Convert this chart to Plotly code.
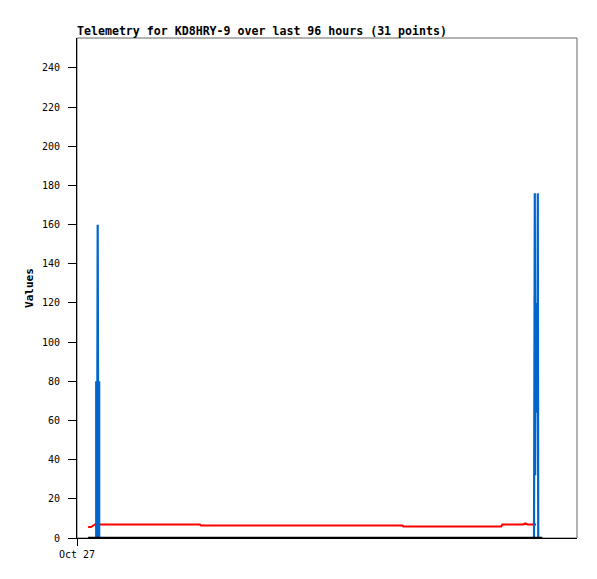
import pandas as pd
import plotly.graph_objects as go

# time axis: Oct 27 00:00 .. Oct 28 00:00
x_start = pd.Timestamp("2023-10-27 00:00:00")
x_end = pd.Timestamp("2023-10-28 00:00:00")

# series (minutes after midnight, value)
red_min = [32, 40, 52, 354, 357, 937, 940, 1222, 1225, 1285, 1291, 1297, 1322]
red_val = [5.6, 5.6, 6.9, 6.9, 6.4, 6.4, 5.9, 5.9, 6.9, 6.9, 7.5, 6.9, 6.9]

blue_min = [55.3, 55.3, 57.6, 59.6, 61.6, 63.9, 63.9,
            1316.2, 1318.5, 1319.6, 1321.3, 1322.5, 1323.6, 1324.8, 1325.9,
            1327.1, 1328.3]
blue_val = [0, 80, 0, 160, 0, 80, 0,
            0, 176, 32, 120, 64, 88, 64, 88, 176, 0]

black_min = [32, 1340]
black_val = [0, 0]

y_ticks = list(range(0, 241, 20))
title = "Telemetry for KD8HRY-9 over last 96 hours (31 points)"


def to_time(mins):
    return [x_start + pd.Timedelta(minutes=m) for m in mins]


# page body has an 8px margin, so the figure is 8px smaller each way
W, H = 589, 571

fig = go.Figure()

fig.add_trace(go.Scatter(x=to_time(red_min), y=red_val, mode="lines",
                         line=dict(color="#ff0000", width=2), name="red"))
fig.add_trace(go.Scatter(x=to_time(blue_min), y=blue_val, mode="lines",
                         line=dict(color="#0066cc", width=2.2), name="blue"))
fig.add_trace(go.Scatter(x=to_time(black_min), y=black_val, mode="lines",
                         line=dict(color="#000000", width=2.5), name="black"))

fig.update_layout(
    width=W, height=H,
    margin=dict(l=69, r=20, t=30, b=41),
    showlegend=False,
    paper_bgcolor="white",
    plot_bgcolor="white",
    font=dict(family="DejaVu Sans Mono", size=10, color="black"),
    title=dict(text="<b>" + title + "</b>",
               font=dict(family="DejaVu Sans Mono", size=11.6, color="black"),
               x=69 / W, xref="container", xanchor="left",
               y=1 - 23 / H, yref="container", yanchor="middle"),
    xaxis=dict(type="date", range=[x_start, x_end],
               tickvals=[x_start], ticktext=["Oct 27"],
               showgrid=False, zeroline=False,
               showline=True, linecolor="black", linewidth=1,
               ticks="outside", ticklen=7, tickcolor="black"),
    yaxis=dict(range=[0, 255.3], tickvals=y_ticks,
               showgrid=False, zeroline=False,
               showline=True, linecolor="black", linewidth=1,
               ticks="outside", ticklen=8, tickcolor="black",
               ticklabelstandoff=6,
               title=dict(text="<b>Values</b>", standoff=6,
                          font=dict(family="DejaVu Sans Mono", size=11))),
    shapes=[dict(type="rect", xref="paper", yref="paper", x0=0, x1=1, y0=0, y1=1,
                 line=dict(color="#666666", width=1), layer="below")],
)

fig.write_html("out.html")
